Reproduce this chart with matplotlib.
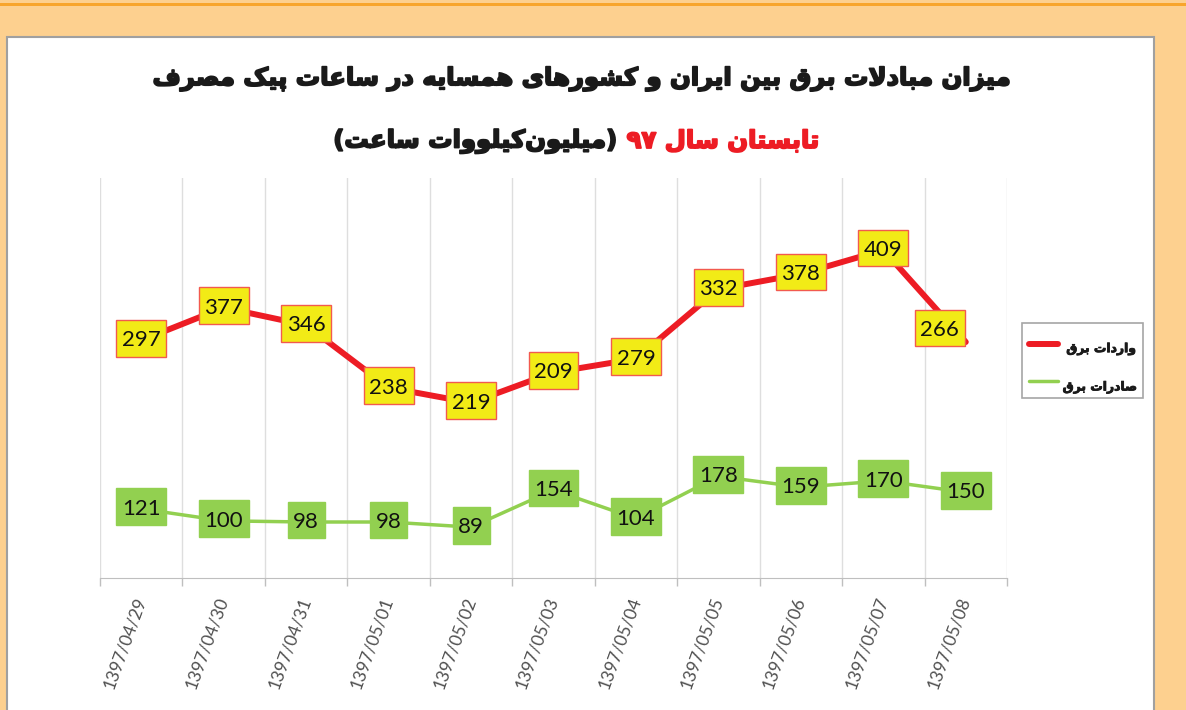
import re
import numpy as np
import matplotlib
matplotlib.use('Agg')
from matplotlib import pyplot as plt
from matplotlib import patheffects as pe
from matplotlib.patches import Rectangle
from matplotlib.lines import Line2D
from matplotlib.path import Path

dates = ['1397/04/29', '1397/04/30', '1397/04/31', '1397/05/01', '1397/05/02', '1397/05/03',
         '1397/05/04', '1397/05/05', '1397/05/06', '1397/05/07', '1397/05/08']
# the red line in the picture does not sit where its labels say, so keep both
imports_line = [297, 338, 316, 238, 219, 257, 274, 361, 380, 410, 295]
imports_label = [297, 377, 346, 238, 219, 209, 279, 332, 378, 409, 266]
exports = [121, 100, 98, 98, 89, 154, 104, 178, 159, 170, 150]

title1 = 'میزان مبادلات برق بین ایران و کشورهای همسایه در ساعات پیک مصرف'
title2_red = 'تابستان سال ۹۷'
title2_black = '(میلیون\u200cکیلووات ساعت)'
name_imports = 'واردات برق'
name_exports = 'صادرات برق'

RED = '#ed1c24'
GREEN = '#92d050'
YELLOW = '#f2eb16'

# minimal arabic/persian shaping: (isolated, final, initial, medial)
FORMS = {
    'ا': (0xFE8D, 0xFE8E), 'آ': (0xFE81, 0xFE82),
    'ب': (0xFE8F, 0xFE90, 0xFE91, 0xFE92), 'پ': (0xFB56, 0xFB57, 0xFB58, 0xFB59),
    'ت': (0xFE95, 0xFE96, 0xFE97, 0xFE98), 'د': (0xFEA9, 0xFEAA),
    'ر': (0xFEAD, 0xFEAE), 'ز': (0xFEAF, 0xFEB0),
    'س': (0xFEB1, 0xFEB2, 0xFEB3, 0xFEB4), 'ش': (0xFEB5, 0xFEB6, 0xFEB7, 0xFEB8),
    'ص': (0xFEB9, 0xFEBA, 0xFEBB, 0xFEBC), 'ع': (0xFEC9, 0xFECA, 0xFECB, 0xFECC),
    'ف': (0xFED1, 0xFED2, 0xFED3, 0xFED4), 'ق': (0xFED5, 0xFED6, 0xFED7, 0xFED8),
    'ک': (0xFB8E, 0xFB8F, 0xFB90, 0xFB91), 'ك': (0xFED9, 0xFEDA, 0xFEDB, 0xFEDC),
    'ل': (0xFEDD, 0xFEDE, 0xFEDF, 0xFEE0), 'م': (0xFEE1, 0xFEE2, 0xFEE3, 0xFEE4),
    'ن': (0xFEE5, 0xFEE6, 0xFEE7, 0xFEE8), 'ه': (0xFEE9, 0xFEEA, 0xFEEB, 0xFEEC),
    'و': (0xFEED, 0xFEEE),
    'ی': (0xFBFC, 0xFBFD, 0xFBFE, 0xFBFF), 'ي': (0xFEF1, 0xFEF2, 0xFEF3, 0xFEF4),
}


def right_only(c):
    return len(FORMS.get(c, ())) == 2


def shape(s):
    out = []
    i = 0
    while i < len(s):
        c = s[i]
        if c not in FORMS:
            out.append(c)
            i += 1
            continue
        prev = s[i - 1] if i > 0 else ''
        jp = prev in FORMS and not right_only(prev)
        if c == 'ل' and i + 1 < len(s) and s[i + 1] == 'ا':
            out.append(chr(0xFEFC if jp else 0xFEFB))
            i += 2
            continue
        nxt = s[i + 1] if i + 1 < len(s) else ''
        jn = not right_only(c) and nxt in FORMS
        f = FORMS[c]
        if jp and jn:
            g = f[3]
        elif jp:
            g = f[1]
        elif jn:
            g = f[2]
        else:
            g = f[0]
        out.append(chr(g))
        i += 1
    s = ''.join(out).replace('\u200c', '')
    runs = re.findall(r'[0-9\u06f0-\u06f9]+|[^0-9\u06f0-\u06f9]+', s)
    mirror = str.maketrans('()', ')(')
    vis = [r if r[0].isdigit() else r[::-1].translate(mirror) for r in reversed(runs)]
    return ''.join(vis)


W, H = 1186, 710


def fx(px):
    return px / W


def fy(py):
    return 1 - py / H


def tag_box(x0, y0, width, height, mutation_size):
    # excel-like label box: more room above and below than at the sides
    px, top, bot = 0.25 * mutation_size, 0.47 * mutation_size, 0.29 * mutation_size
    a, b = x0 - px, x0 + width + px
    c, d = y0 - bot, y0 + height + top
    return Path([(a, c), (b, c), (b, d), (a, d), (a, c)], closed=True)


def label(axis, text, xy, off, fc, ec):
    axis.annotate(text, xy, xytext=off, textcoords='offset pixels', ha='center', va='center',
                  fontsize=16, family='Lato', color='#111111', zorder=5,
                  bbox=dict(boxstyle=tag_box, fc=fc, ec=ec, lw=1))


fig = plt.figure(figsize=(W / 100, H / 100), dpi=100, facecolor='#fdd08f')
fig.add_artist(Rectangle((0, fy(6)), 1, fy(3) - fy(6), transform=fig.transFigure,
                         fc='#f8a52c', ec='none', zorder=-2))
fig.add_artist(Rectangle((fx(7), fy(715)), fx(1154) - fx(7), fy(37) - fy(715),
                         transform=fig.transFigure, fc='white', ec='#a0a0a0', lw=1.5, zorder=-2))

ax = fig.add_axes([fx(100), fy(578), fx(1007) - fx(100), fy(178) - fy(578)])
ax.patch.set_visible(False)
x = np.arange(len(dates))
ax.set_xlim(-0.5, len(dates) - 0.5)
ax.set_ylim(0, 500)
ax.plot(x, imports_line, color=RED, lw=4.3, solid_capstyle='round', solid_joinstyle='round', zorder=3)
for i, (v, lab) in enumerate(zip(imports_line, imports_label)):
    off = (-26, 12) if i == len(dates) - 1 else (0, 0)
    label(ax, str(lab), (i, v), off, YELLOW, '#f25a4f')

ax.set_xticks(x)
ax.set_xticklabels(dates, rotation=70, rotation_mode='anchor', ha='right', va='center',
                   fontsize=12.5, family='Lato', color='#505050')
ax.tick_params(axis='x', which='major', length=0, pad=14)
ax.set_xticks(np.arange(-0.5, len(dates), 1), minor=True)
ax.tick_params(axis='x', which='minor', length=6, color='#bfbfbf', width=1)
ax.grid(axis='x', which='minor', color='#dedede', lw=1)
ax.set_axisbelow(True)
ax.set_yticks([])
for s in ['top', 'left', 'right']:
    ax.spines[s].set_visible(False)
ax.spines['bottom'].set_color('#bfbfbf')

ax2 = ax.twinx()
ax2.set_ylim(0, 700)
ax2.plot(x, exports, color=GREEN, lw=2.5, solid_capstyle='round', zorder=3)
for i, v in enumerate(exports):
    label(ax2, str(v), (i, v), (0, 0), GREEN, GREEN)
ax2.set_yticks([])
for s in ax2.spines.values():
    s.set_visible(False)

# titles, a stroke makes them heavier like the original
title_kw = dict(va='center', fontsize=17.5, fontweight='bold', family='DejaVu Sans')
fig.text(fx(581), fy(79), shape(title1), ha='center', color='#1a1a1a',
         path_effects=[pe.withStroke(linewidth=1.3, foreground='#1a1a1a')], **title_kw)
t_red = fig.text(0, fy(141), shape(title2_red), ha='left', color=RED,
                 path_effects=[pe.withStroke(linewidth=1.3, foreground=RED)], **title_kw)
t_blk = fig.text(0, fy(141), shape(title2_black), ha='left', color='#1a1a1a',
                 path_effects=[pe.withStroke(linewidth=1.3, foreground='#1a1a1a')], **title_kw)
r = fig.canvas.get_renderer()
wr = t_red.get_window_extent(r).width
wb = t_blk.get_window_extent(r).width
left = 576 - (wr + wb + 10) / 2
t_blk.set_x(fx(left))
t_red.set_x(fx(left + wb + 10))

# legend
fig.add_artist(Rectangle((fx(1022), fy(398)), fx(1143) - fx(1022), fy(323) - fy(398),
                         transform=fig.transFigure, fc='white', ec='#a6a6a6', lw=1.2))
fig.add_artist(Line2D([fx(1029), fx(1058)], [fy(344)] * 2, transform=fig.transFigure,
                      color=RED, lw=4.3, solid_capstyle='round'))
fig.add_artist(Line2D([fx(1029), fx(1058)], [fy(381)] * 2, transform=fig.transFigure,
                      color=GREEN, lw=2.5, solid_capstyle='round'))
leg_kw = dict(ha='right', va='center', fontsize=8.9, fontweight='bold', family='DejaVu Sans',
              color='#1a1a1a', path_effects=[pe.withStroke(linewidth=0.6, foreground='#1a1a1a')])
fig.text(fx(1136), fy(349), shape(name_imports), **leg_kw)
fig.text(fx(1137), fy(387), shape(name_exports), **leg_kw)

fig.savefig('out.png', dpi=100, facecolor=fig.get_facecolor())
